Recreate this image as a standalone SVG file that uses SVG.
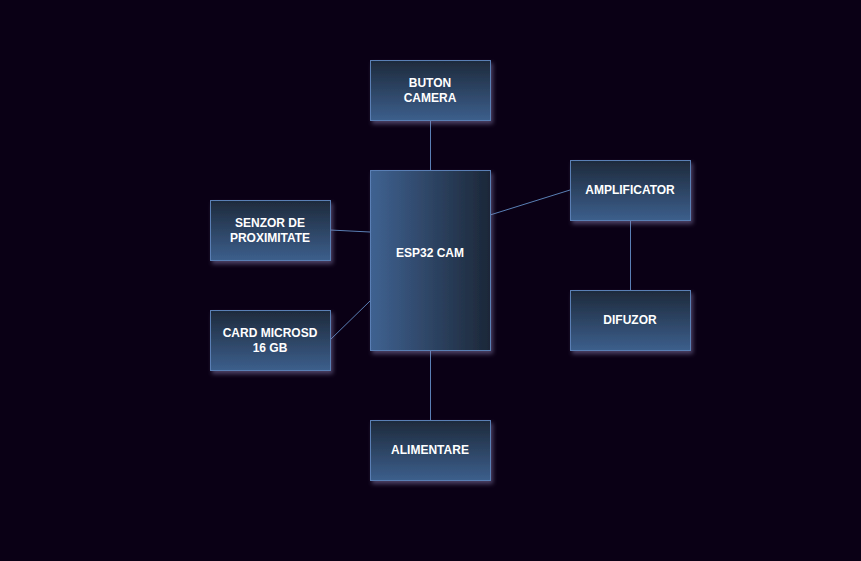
<svg xmlns="http://www.w3.org/2000/svg" width="861" height="561" viewBox="0 0 861 561">
<defs>
<linearGradient id="gv" x1="0" y1="0" x2="0" y2="1"><stop offset="0" stop-color="#1e2a3c"/><stop offset="1" stop-color="#3c5f8c"/></linearGradient>
<linearGradient id="gh" x1="0" y1="0" x2="1" y2="0"><stop offset="0" stop-color="#3f6291"/><stop offset="1" stop-color="#1c2738"/></linearGradient>
<filter id="sh" x="-20%" y="-20%" width="150%" height="150%"><feDropShadow dx="2" dy="3" stdDeviation="2" flood-color="#8a80b0" flood-opacity="0.5"/></filter>
<style>
.b{stroke:#5a7fb5;stroke-width:1;filter:url(#sh)}
.v{fill:url(#gv)}
.t{font-family:"Liberation Sans",Arial,sans-serif;font-weight:bold;font-size:12px;fill:#ffffff;text-anchor:middle}
.c{stroke:#5a7fb5;stroke-width:1;fill:none}
</style>
</defs>
<rect width="861" height="561" fill="#0a0015"/>
<g id="connectors">
<line class="c" x1="430.5" y1="120" x2="430.5" y2="170"/>
<line class="c" x1="430.5" y1="350" x2="430.5" y2="420"/>
<line class="c" x1="330" y1="230" x2="370" y2="232"/>
<line class="c" x1="330" y1="340" x2="370" y2="301"/>
<line class="c" x1="490" y1="215" x2="570" y2="190"/>
<line class="c" x1="630.5" y1="220" x2="630.5" y2="290"/>
</g>
<g id="buton"><rect class="b v" x="370.5" y="60.5" width="120" height="60"/><text class="t" x="430" y="87">BUTON</text><text class="t" x="430" y="102">CAMERA</text></g>
<g id="esp"><rect class="b" fill="url(#gh)" x="370.5" y="170.5" width="120" height="180"/><text class="t" x="430" y="257">ESP32 CAM</text></g>
<g id="senzor"><rect class="b v" x="210.5" y="200.5" width="120" height="60"/><text class="t" x="270" y="227">SENZOR DE</text><text class="t" x="270" y="242">PROXIMITATE</text></g>
<g id="card"><rect class="b v" x="210.5" y="310.5" width="120" height="60"/><text class="t" x="270" y="337">CARD MICROSD</text><text class="t" x="270" y="352">16 GB</text></g>
<g id="alim"><rect class="b v" x="370.5" y="420.5" width="120" height="60"/><text class="t" x="430" y="454">ALIMENTARE</text></g>
<g id="amp"><rect class="b v" x="570.5" y="160.5" width="120" height="60"/><text class="t" x="630" y="194">AMPLIFICATOR</text></g>
<g id="difuzor"><rect class="b v" x="570.5" y="290.5" width="120" height="60"/><text class="t" x="630" y="324">DIFUZOR</text></g>
</svg>
